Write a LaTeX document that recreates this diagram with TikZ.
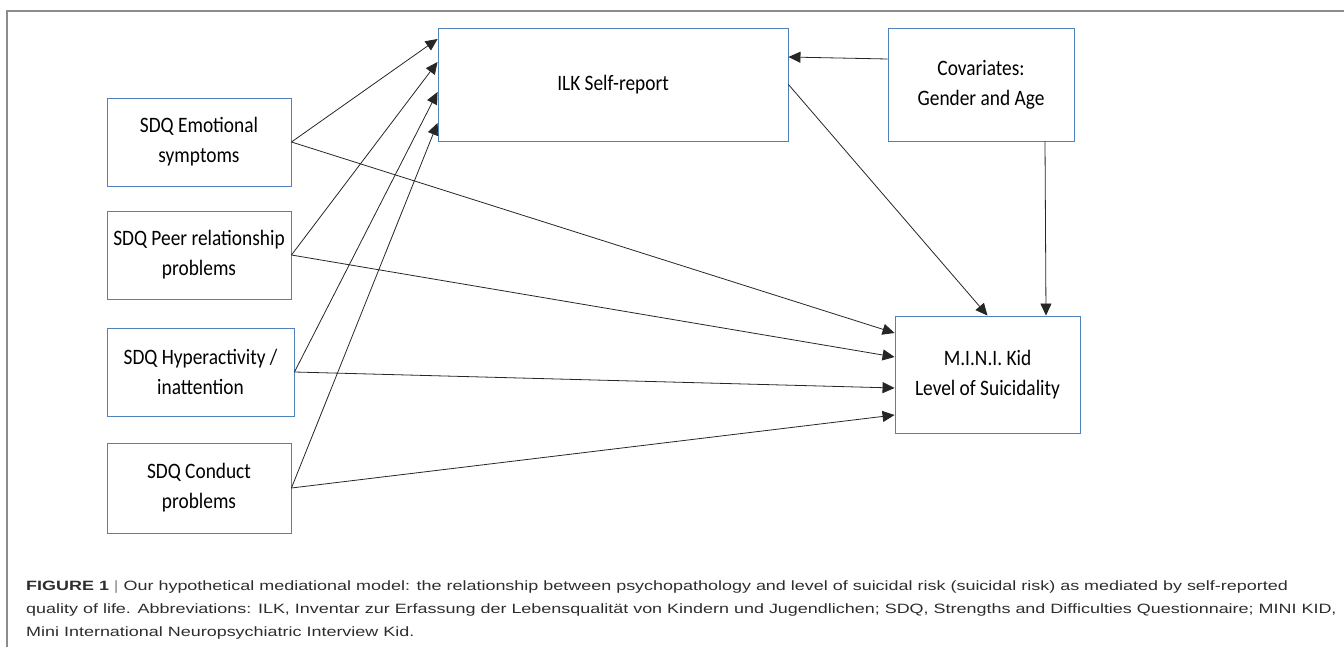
\documentclass[tikz,border=0pt]{standalone}
\usepackage{fontspec}
\setmainfont[FakeStretch=0.88]{Carlito}
\newfontfamily\capfont[FakeStretch=1.33]{Liberation Sans}
\usetikzlibrary{arrows.meta}
\definecolor{boxblue}{RGB}{79,129,189}
\definecolor{framegray}{RGB}{140,140,140}
\definecolor{capgray}{RGB}{45,45,45}
\begin{document}
\begin{tikzpicture}[x=1pt, y=-1pt,
boxnode/.style={rectangle, draw=boxblue, line width=0.9pt, fill=white, align=center, inner sep=0pt, font=\fontsize{22}{30}\selectfont},
linkarrow/.style={-{Triangle[length=12pt,width=11pt]}, line width=0.8pt, black!85},
]
\useasboundingbox (0,0) rectangle (1344,647);
%Frame
\draw[framegray, line width=1.1pt] (1344,11) -- (7,11) -- (7,647);

%Nodes
\node[boxnode, minimum width=184, minimum height=88]  (emo)     at (199,142)     {SDQ Emotional\\symptoms};
\node[boxnode, minimum width=184, minimum height=88]  (peer)    at (199,255)     {SDQ Peer relationship\\problems};
\node[boxnode, minimum width=187, minimum height=88]  (hyper)   at (200.5,372)   {SDQ Hyperactivity /\\inattention};
\node[boxnode, minimum width=184, minimum height=90]  (conduct) at (199,488)     {SDQ Conduct\\problems};
\node[boxnode, minimum width=350, minimum height=113] (ilk)     at (613,84.5)    {ILK Self-report};
\node[boxnode, minimum width=186, minimum height=113] (cov)     at (981,84.5)    {Covariates:\\Gender and Age};
\node[boxnode, minimum width=185, minimum height=117] (mini)    at (987.5,374.5) {M.I.N.I. Kid\\Level of Suicidality};

%Lines
\draw[linkarrow] (emo.east)     -- ([yshift=45.5pt]ilk.west);
\draw[linkarrow] (peer.east)    -- ([yshift=22.5pt]ilk.west);
\draw[linkarrow] (hyper.east)   -- ([yshift=-7.5pt]ilk.west);
\draw[linkarrow] (conduct.east) -- ([yshift=-38.5pt]ilk.west);
\draw[linkarrow] (emo.east)     -- ([yshift=41.5pt]mini.west);
\draw[linkarrow] (peer.east)    -- ([yshift=17.5pt]mini.west);
\draw[linkarrow] (hyper.east)   -- ([yshift=-13.5pt]mini.west);
\draw[linkarrow] (conduct.east) -- ([yshift=-40.5pt]mini.west);
\draw[linkarrow] (ilk.east)     -- (mini.north);
\draw[linkarrow] ([yshift=25.5pt]cov.west) -- ([yshift=27.5pt]ilk.east);
\draw[linkarrow] ([xshift=64pt]cov.south)  -- ([xshift=58.5pt]mini.north);

%Caption
\node[anchor=north west, inner sep=0pt, align=left, text=capgray, font=\capfont\fontsize{13.5}{23}\selectfont] (caption) at (26,581)
{\textbf{FIGURE 1} {\color{framegray}|} Our hypothetical mediational model: the relationship between psychopathology and level of suicidal risk (suicidal risk) as mediated by self-reported\\
quality of life. Abbreviations: ILK, Inventar zur Erfassung der Lebensqualität von Kindern und Jugendlichen; SDQ, Strengths and Difficulties Questionnaire; MINI KID,\\
Mini International Neuropsychiatric Interview Kid.};
\end{tikzpicture}
\end{document}
